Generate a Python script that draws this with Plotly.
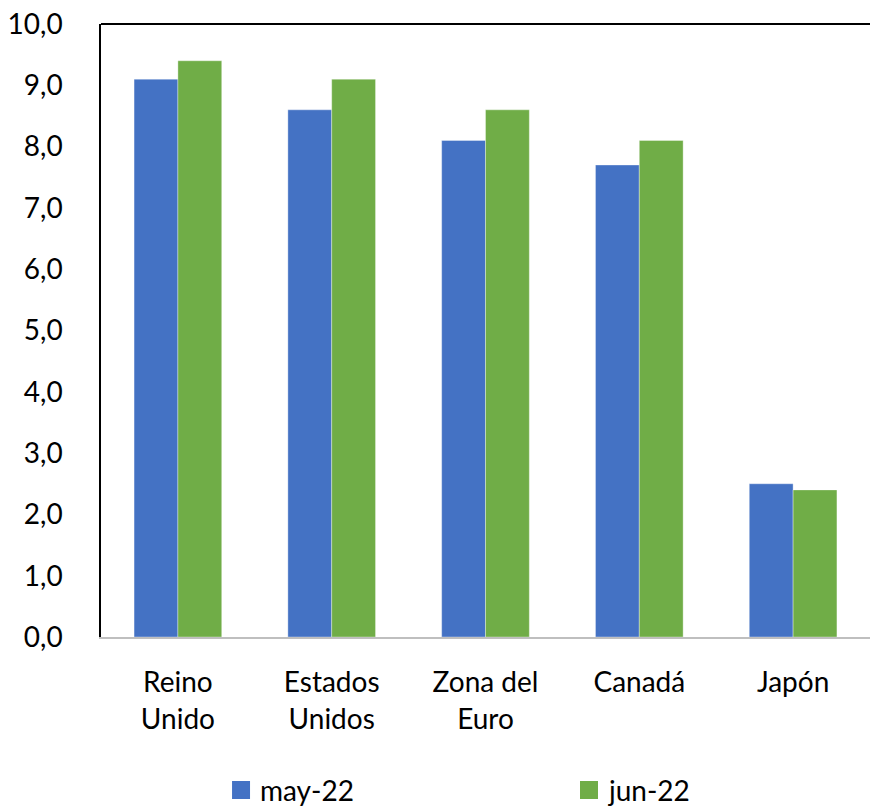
import plotly.graph_objects as go

# Inflación por país (%)
categories = ["Reino<br>Unido", "Estados<br>Unidos", "Zona del<br>Euro", "Canadá", "Japón"]
may_22 = [9.1, 8.6, 8.1, 7.7, 2.5]
jun_22 = [9.4, 9.1, 8.6, 8.1, 2.4]
series_names = ["may-22", "jun-22"]

blue = "#4472C4"
green = "#70AD47"
font = "Lato, 'Open Sans', sans-serif"

fig = go.Figure()
for name, vals, col in [(series_names[0], may_22, blue), (series_names[1], jun_22, green)]:
    fig.add_trace(go.Bar(x=categories, y=vals, name=name, marker_color=col,
                         marker_line=dict(color="rgba(255,255,255,0.35)", width=1)))

# legend drawn by hand below the plot (paper coords)
legend_shapes = []
legend_notes = []
for i, (name, col) in enumerate([(series_names[0], blue), (series_names[1], green)]):
    x0 = [0.1704, 0.6229][i]
    legend_shapes.append(dict(type="rect", xref="paper", yref="paper",
                              x0=x0, x1=x0 + 0.0234, y0=-0.2643, y1=-0.2349,
                              fillcolor=col, line=dict(width=0)))
    legend_notes.append(dict(text=name, xref="paper", yref="paper", x=x0 + 0.034,
                             y=-0.2496, xanchor="left", yanchor="middle",
                             showarrow=False, font=dict(size=28)))

fig.update_layout(
    width=870, height=807,
    margin=dict(l=101, r=0, t=24, b=170, autoexpand=False),
    paper_bgcolor="white", plot_bgcolor="white",
    font=dict(family=font, size=28, color="black"),
    separators=",.",
    barmode="group", bargap=0.43, bargroupgap=0,
    showlegend=False,
    xaxis=dict(showline=True, linecolor="#BFBFBF", linewidth=1.5, ticks="",
               showgrid=False, tickfont=dict(size=28), ticklabelstandoff=20,
               automargin=False),
    yaxis=dict(range=[0, 10], dtick=1, tickformat=".1f", showgrid=False,
               showline=True, linecolor="black", linewidth=1.5, ticks="",
               ticklabelstandoff=31, zeroline=False, tickfont=dict(size=28),
               automargin=False),
    shapes=[dict(type="line", xref="paper", yref="paper", x0=0, x1=1, y0=1, y1=1,
                 layer="above", line=dict(color="black", width=2))] + legend_shapes,
    annotations=legend_notes,
)

# drop the default 8px page margin so the figure fills the window
fig.write_html("out.html", config={"displayModeBar": False},
               post_script="document.body.style.margin='0';")
